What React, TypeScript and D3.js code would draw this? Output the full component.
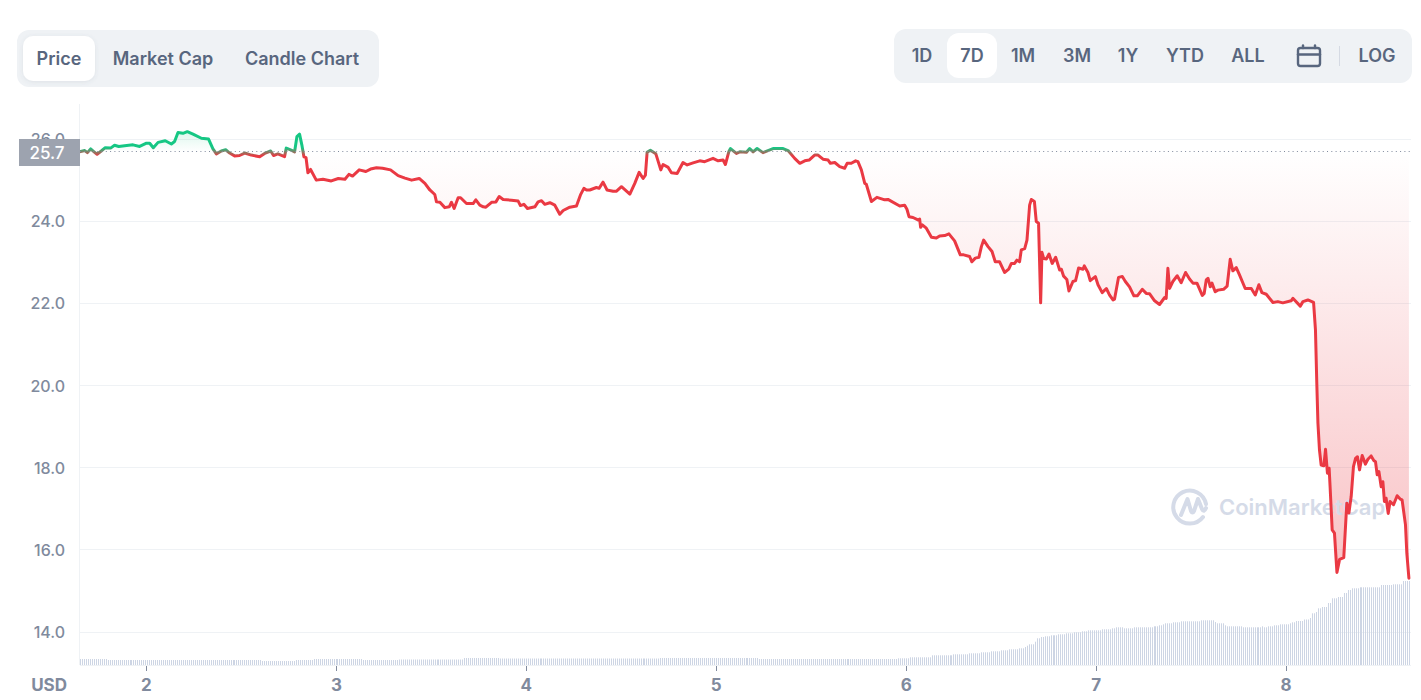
import * as d3 from "d3"

// day of month
const priceDays = [
  1.648, 1.675, 1.689, 1.706, 1.724, 1.74, 1.762, 1.783, 1.811, 1.832, 1.854, 1.885, 1.929, 1.964, 2.0, 2.017, 2.036, 2.061, 2.099, 2.131,
  2.148, 2.166, 2.192, 2.215, 2.245, 2.289, 2.327, 2.35, 2.368, 2.394, 2.417, 2.438, 2.464, 2.49, 2.517, 2.552, 2.596, 2.622, 2.654, 2.669,
  2.692, 2.727, 2.736, 2.762, 2.78, 2.792, 2.806, 2.818, 2.829, 2.84, 2.85, 2.864, 2.894, 2.929, 2.973, 3.01, 3.045, 3.066, 3.085, 3.12,
  3.155, 3.18, 3.211, 3.243, 3.285, 3.325, 3.361, 3.396, 3.436, 3.466, 3.492, 3.518, 3.527, 3.545, 3.571, 3.594, 3.606, 3.62, 3.641, 3.654,
  3.685, 3.72, 3.734, 3.755, 3.773, 3.787, 3.817, 3.84, 3.857, 3.878, 3.922, 3.957, 3.969, 3.987, 4.006, 4.045, 4.062, 4.08, 4.097, 4.124,
  4.15, 4.176, 4.194, 4.229, 4.264, 4.285, 4.303, 4.317, 4.334, 4.369, 4.383, 4.404, 4.425, 4.457, 4.475, 4.501, 4.545, 4.571, 4.594, 4.615,
  4.627, 4.636, 4.653, 4.682, 4.708, 4.72, 4.747, 4.764, 4.794, 4.825, 4.847, 4.878, 4.913, 4.939, 4.983, 5.01, 5.036, 5.048, 5.066, 5.075,
  5.106, 5.124, 5.159, 5.176, 5.194, 5.215, 5.246, 5.299, 5.352, 5.378, 5.413, 5.44, 5.466, 5.489, 5.518, 5.536, 5.562, 5.589, 5.601, 5.624,
  5.65, 5.676, 5.689, 5.711, 5.734, 5.746, 5.764, 5.782, 5.79, 5.817, 5.846, 5.887, 5.904, 5.966, 5.992, 6.004, 6.015, 6.036, 6.062, 6.071,
  6.076, 6.085, 6.106, 6.133, 6.159, 6.176, 6.203, 6.225, 6.255, 6.285, 6.303, 6.334, 6.346, 6.364, 6.383, 6.396, 6.408, 6.431, 6.452, 6.469,
  6.492, 6.518, 6.54, 6.554, 6.571, 6.583, 6.597, 6.606, 6.624, 6.636, 6.65, 6.659, 6.675, 6.685, 6.697, 6.708, 6.715, 6.724, 6.738, 6.752,
  6.769, 6.787, 6.808, 6.817, 6.829, 6.846, 6.857, 6.878, 6.892, 6.908, 6.931, 6.938, 6.957, 6.969, 6.996, 7.01, 7.032, 7.054, 7.071, 7.089,
  7.097, 7.118, 7.138, 7.154, 7.176, 7.199, 7.217, 7.243, 7.264, 7.282, 7.308, 7.334, 7.361, 7.369, 7.378, 7.387, 7.404, 7.427, 7.448, 7.471,
  7.492, 7.51, 7.531, 7.559, 7.569, 7.58, 7.589, 7.601, 7.61, 7.627, 7.641, 7.671, 7.69, 7.706, 7.72, 7.738, 7.755, 7.785, 7.817, 7.838,
  7.857, 7.873, 7.896, 7.931, 7.957, 7.983, 8.027, 8.036, 8.075, 8.089, 8.115, 8.145, 8.155, 8.162, 8.168, 8.176, 8.185, 8.199, 8.208, 8.218,
  8.227, 8.232, 8.243, 8.255, 8.268, 8.282, 8.304, 8.32, 8.331, 8.343, 8.355, 8.366, 8.376, 8.387, 8.401, 8.418, 8.431, 8.448, 8.462, 8.471,
  8.48, 8.489, 8.501, 8.51, 8.518, 8.527, 8.538, 8.548, 8.566, 8.585, 8.601, 8.611, 8.629, 8.636, 8.647,
]

const prices = [
  25.7, 25.73, 25.68, 25.77, 25.7, 25.64, 25.72, 25.8, 25.79, 25.86, 25.83, 25.85, 25.87, 25.83, 25.91, 25.91, 25.8, 25.93, 25.97, 25.89,
  25.95, 26.17, 26.15, 26.19, 26.13, 26.03, 26.01, 25.77, 25.65, 25.72, 25.75, 25.67, 25.6, 25.61, 25.67, 25.62, 25.58, 25.66, 25.72, 25.61,
  25.65, 25.58, 25.79, 25.74, 25.7, 26.07, 26.13, 25.87, 25.58, 25.56, 25.19, 25.27, 25.01, 25.03, 24.99, 25.05, 25.03, 25.15, 25.11, 25.26,
  25.22, 25.28, 25.31, 25.3, 25.26, 25.12, 25.06, 25.01, 25.05, 24.93, 24.77, 24.66, 24.48, 24.47, 24.34, 24.36, 24.47, 24.32, 24.58, 24.58,
  24.44, 24.44, 24.53, 24.4, 24.36, 24.35, 24.47, 24.48, 24.61, 24.54, 24.52, 24.5, 24.39, 24.42, 24.32, 24.36, 24.48, 24.51, 24.42, 24.46,
  24.4, 24.18, 24.27, 24.35, 24.38, 24.65, 24.81, 24.77, 24.77, 24.83, 24.81, 24.96, 24.77, 24.74, 24.74, 24.85, 24.67, 24.93, 25.2, 25.05,
  25.13, 25.69, 25.74, 25.65, 25.26, 25.39, 25.32, 25.19, 25.17, 25.44, 25.38, 25.43, 25.48, 25.46, 25.54, 25.48, 25.5, 25.39, 25.7, 25.78,
  25.66, 25.7, 25.69, 25.78, 25.7, 25.78, 25.68, 25.78, 25.78, 25.73, 25.54, 25.42, 25.48, 25.5, 25.62, 25.62, 25.52, 25.5, 25.42, 25.44,
  25.34, 25.3, 25.42, 25.42, 25.48, 25.46, 25.26, 24.93, 24.91, 24.49, 24.59, 24.53, 24.54, 24.38, 24.4, 24.3, 24.12, 24.1, 24.04, 24.06,
  23.86, 23.92, 23.84, 23.62, 23.6, 23.65, 23.66, 23.7, 23.53, 23.19, 23.19, 23.15, 23.02, 23.11, 23.13, 23.39, 23.55, 23.39, 23.27, 23.02,
  23.02, 22.76, 22.84, 22.98, 22.98, 23.06, 23.02, 23.31, 23.34, 23.55, 24.4, 24.54, 24.49, 24.0, 23.96, 22.02, 23.25, 23.1, 23.09, 23.21,
  22.98, 23.13, 22.82, 22.84, 22.67, 22.59, 22.31, 22.54, 22.56, 22.87, 22.84, 22.92, 22.76, 22.56, 22.66, 22.46, 22.27, 22.37, 22.21, 22.09,
  22.11, 22.64, 22.66, 22.54, 22.41, 22.19, 22.19, 22.35, 22.25, 22.24, 22.07, 21.98, 22.15, 22.13, 22.86, 22.37, 22.54, 22.68, 22.51, 22.76,
  22.6, 22.5, 22.5, 22.2, 22.25, 22.58, 22.62, 22.41, 22.5, 22.29, 22.33, 22.35, 22.43, 23.08, 22.8, 22.88, 22.7, 22.37, 22.37, 22.21,
  22.46, 22.27, 22.23, 22.03, 22.05, 22.02, 22.07, 22.13, 21.94, 22.05, 22.09, 22.03, 21.36, 20.06, 19.09, 18.44, 18.07, 18.05, 18.45, 17.87,
  17.99, 17.54, 16.49, 16.41, 15.45, 15.77, 15.81, 17.14, 16.9, 17.3, 18.03, 18.23, 18.27, 17.95, 18.3, 18.09, 18.21, 18.29, 18.18, 18.15,
  17.83, 17.91, 17.54, 17.66, 17.18, 17.26, 16.89, 17.18, 17.1, 17.32, 17.24, 17.22, 16.61, 15.92, 15.31,
]

// volume, relative units, as [number of 15 min bars, level]
const volumeRuns: [number, number][] = [
  [14, 6], [78, 5], [17, 4], [9, 5], [25, 6], [18, 5], [33, 5.5], [18, 7], [81, 6.5], [50, 7], [60, 6], [10, 6],
  [6, 6.7], [11, 7.7], [11, 9.7], [8, 10.7], [6, 11.7], [5, 12.7], [5, 13.7], [4, 14.7], [5, 15.7], [3, 16.7], [1, 18], [1, 19.3],
  [3, 20.7], [1, 23.3], [2, 26.7], [2, 28], [3, 28.7], [4, 29.7], [4, 30.7], [4, 31.7], [4, 32.7], [3, 33.7], [7, 34.7], [5, 35.7],
  [2, 36.7], [4, 37.7], [5, 36.7], [10, 37.7], [3, 38.7], [2, 39.7], [1, 40.7], [4, 41.7], [4, 42.7], [10, 43.7], [7, 44.7], [1, 43],
  [4, 41.7], [1, 39.7], [8, 38.7], [10, 37.7], [1, 38.7], [2, 37.7], [3, 38.7], [3, 39.7], [5, 40.7], [1, 41.7], [2, 42.7], [4, 44],
  [3, 45.5], [1, 47], [2, 51.7], [1, 53], [2, 56.7], [3, 58], [2, 62], [3, 66.7], [3, 68], [2, 72], [2, 75], [4, 76.7], [11, 77.7],
  [6, 80], [5, 80.7], [4, 84],
]

const yTicks = [14, 16, 18, 20, 22, 24, 26]
const xTicks = [2, 3, 4, 5, 6, 7, 8]
const basePrice = 25.7
const chartTabs = ["Price", "Market Cap", "Candle Chart"]
const rangeTabs = ["1D", "7D", "1M", "3M", "1Y", "YTD", "ALL"]

const FONT = "Inter, sans-serif"
const GREY = "#808a9d"
const TAB_TEXT = "#58667e"
const GRID = "#eff2f5"
const RED = "#ea3943"
const GREEN = "#16c784"

const chartCentres = [59, 163, 302]
const rangeCentres = [922, 972, 1023, 1077, 1128, 1185, 1248]

const App = () => {
  const x = d3.scaleLinear().domain([1.65, 8.658]).range([80, 1411])
  const y = d3.scaleLinear().domain([14, 26]).range([632, 139.5])
  const base = y(basePrice)
  const crisp = (v: number) => Math.floor(v) + 0.5

  const bars = volumeRuns.flatMap(([n, v]) => d3.range(n).map(() => v))
  const xBar = d3.scaleBand<number>().domain(d3.range(bars.length)).range([80, 1411])
  const yVol = d3.scaleLinear().domain([0, 84]).range([665, 581])

  const points = priceDays.map((d, i) => [d, prices[i]] as [number, number])
  const line = d3
    .line<[number, number]>()
    .x((d) => x(d[0]))
    .y((d) => y(d[1]))
  const area = d3
    .area<[number, number]>()
    .x((d) => x(d[0]))
    .y0(base)
    .y1((d) => y(d[1]))

  return (
    <svg
      width={1421}
      height={700}
      style={{ position: "absolute", left: 0, top: 0, display: "block", fontFamily: FONT }}
    >
      <defs>
        <linearGradient id="areaFill" gradientUnits="userSpaceOnUse" x1={0} x2={0} y1={y(26.19)} y2={y(15.31)}>
          <stop offset={0} stopColor={GREEN} stopOpacity={0.14} />
          <stop offset={(base - y(26.19)) / (y(15.31) - y(26.19))} stopColor={GREEN} stopOpacity={0} />
          <stop offset={(base - y(26.19)) / (y(15.31) - y(26.19))} stopColor={RED} stopOpacity={0} />
          <stop offset={1} stopColor={RED} stopOpacity={0.31} />
        </linearGradient>
        <linearGradient id="lineStroke" gradientUnits="userSpaceOnUse" x1={0} x2={0} y1={base - 4} y2={base + 4}>
          <stop offset={0} stopColor={GREEN} />
          <stop offset={1} stopColor={RED} />
        </linearGradient>
        <filter id="tabShadow" x="-20%" y="-20%" width="140%" height="150%">
          <feDropShadow dx={0} dy={1} stdDeviation={2} floodColor="#58667e" floodOpacity={0.12} />
        </filter>
      </defs>

      {/* left tabs */}
      <rect x={17} y={30} width={362} height={57} rx={12} fill={GRID} />
      <rect x={23} y={36} width={72} height={45} rx={10} fill="#fff" filter="url(#tabShadow)" />
      {chartTabs.map((t, i) => (
        <text key={t} x={chartCentres[i]} y={59} dy="0.36em" textAnchor="middle" fontSize={18} fontWeight={600} fill={TAB_TEXT}>
          {t}
        </text>
      ))}

      {/* right tabs */}
      <rect x={894} y={29} width={518} height={54} rx={12} fill={GRID} />
      <rect x={947} y={33} width={50} height={45} rx={12} fill="#fff" />
      {rangeTabs.map((t, i) => (
        <text key={t} x={rangeCentres[i]} y={56} dy="0.36em" textAnchor="middle" fontSize={18} fontWeight={600} fill={TAB_TEXT}>
          {t}
        </text>
      ))}
      <g fill="none" stroke={TAB_TEXT} strokeWidth={2.4} strokeLinecap="round">
        <rect x={1298} y={48} width={22} height={18} rx={2.5} />
        <line x1={1298} x2={1320} y1={54.5} y2={54.5} />
        <line x1={1303} x2={1303} y1={45.5} y2={48} />
        <line x1={1315} x2={1315} y1={45.5} y2={48} />
      </g>
      <line x1={1339.5} x2={1339.5} y1={46} y2={66} stroke="#d5dae3" />
      <text x={1377} y={56} dy="0.36em" textAnchor="middle" fontSize={18} fontWeight={600} fill={TAB_TEXT}>
        LOG
      </text>

      {/* grid */}
      <line x1={79.5} x2={79.5} y1={104} y2={665} stroke={GRID} />
      {yTicks.map((t) => (
        <g key={t}>
          <line x1={80} x2={1411} y1={crisp(y(t))} y2={crisp(y(t))} stroke={GRID} />
          <text x={65} y={y(t)} dy="0.36em" textAnchor="end" fontSize={16} fontWeight={500} fill={GREY}>
            {t.toFixed(1)}
          </text>
        </g>
      ))}
      <line x1={80} x2={1411} y1={665.5} y2={665.5} stroke={GRID} />

      {/* volume */}
      {bars.map((v, i) => (
        <rect key={i} x={Math.round(xBar(i) ?? 0)} y={yVol(v)} width={1} height={yVol(0) - yVol(v)} fill="#cdd5e4" />
      ))}

      {/* price area */}
      <path d={area(points) ?? ""} fill="url(#areaFill)" />

      {/* watermark */}
      <g fill="none" stroke="#d5dbe8" strokeWidth={4} strokeLinecap="round" strokeLinejoin="round">
        <path d="M1203 517 A16.5 16.5 0 1 1 1206 504" />
        <path d="M1181 515 L1187.5 499 L1191 511 Q1192.5 514 1194 511 L1198 499 L1202 509 Q1204 513 1206 508" />
      </g>
      <text x={1219} y={507} dy="0.36em" fontSize={22} fontWeight={600} fill="#d5dbe8">
        CoinMarketCap
      </text>

      {/* price line */}
      <path d={line(points) ?? ""} fill="none" stroke="url(#lineStroke)" strokeWidth={3} strokeLinejoin="round" strokeLinecap="round" />

      {/* current price marker */}
      <line x1={80} x2={1411} y1={crisp(base)} y2={crisp(base)} stroke={GREY} strokeDasharray="1 3.3" />
      <rect x={19} y={139} width={61} height={27} fill="#9da3af" />
      <text x={47} y={152.5} dy="0.36em" textAnchor="middle" fontSize={17} fontWeight={500} fill="#fff">
        {basePrice.toFixed(1)}
      </text>

      {/* x axis */}
      {xTicks.map((t) => (
        <g key={t}>
          <line x1={crisp(x(t))} x2={crisp(x(t))} y1={666} y2={671} stroke={GREY} />
          <text x={x(t)} y={685} dy="0.36em" textAnchor="middle" fontSize={17} fontWeight={700} fill={GREY}>
            {t}
          </text>
        </g>
      ))}
      <text x={67} y={685} dy="0.36em" textAnchor="end" fontSize={17} fontWeight={700} fill={GREY}>
        USD
      </text>
    </svg>
  )
}

export default App
